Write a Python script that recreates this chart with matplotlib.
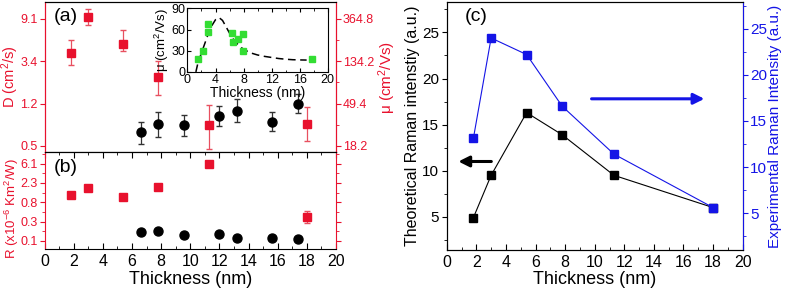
import numpy as np
import matplotlib
matplotlib.use("Agg")
import matplotlib.pyplot as plt
from matplotlib.ticker import FixedLocator, FixedFormatter, NullFormatter, MultipleLocator

plt.rcParams['font.family'] = ['Liberation Sans', 'DejaVu Sans']
plt.rcParams['mathtext.fontset'] = 'custom'
plt.rcParams['mathtext.rm'] = 'Liberation Sans'
plt.rcParams['mathtext.it'] = 'Liberation Sans:italic'

RED = '#e8112d'
BLUE = '#1414e6'

# ---- panel (a): diffusivity D (left) / mobility mu (right)
x_red = [1.8, 3.0, 5.4, 7.8, 11.3, 18.0]
D_red = [4.1, 9.6, 5.1, 2.3, 0.74, 0.76]
D_red_hi = [5.5, 11.5, 7.0, 3.4, 1.19, 1.13]
D_red_lo = [3.1, 8.0, 4.3, 1.5, 0.42, 0.51]

x_blk = [6.6, 7.8, 9.6, 12.0, 13.2, 15.6, 17.4]
D_blk = [0.63, 0.76, 0.74, 0.93, 1.05, 0.81, 1.23]
D_blk_hi = [0.81, 1.02, 0.94, 1.17, 1.37, 1.01, 1.54]
D_blk_lo = [0.48, 0.56, 0.57, 0.73, 0.80, 0.65, 0.98]

D_ticks = [0.455, 1.235, 3.355, 9.12]
D_labels = ['0.5', '1.2', '3.4', '9.1']
mu_ticks = [18.2, 49.4, 134.2, 364.8]
mu_labels = ['18.2', '49.4', '134.2', '364.8']

# inset
x_green = [1.5, 2.2, 3.0, 3.0, 6.4, 6.5, 7.2, 7.9, 7.9, 17.7]
mu_green = [19, 30, 68, 57, 55, 42, 47, 54, 29, 18]
x_fit = [1.2, 1.5, 2.0, 2.5, 3.0, 3.5, 4.0, 4.5, 5.0, 5.5, 6.0, 6.5, 7.0,
         7.5, 8.0, 9.0, 10.0, 11.0, 12.0, 13.0, 14.0, 15.0, 16.0, 17.0]
mu_fit = [0, 13, 27, 41, 55, 66, 74, 77, 73, 64, 55, 47, 41,
          36, 32, 27, 24, 22, 20.5, 19, 18, 17.3, 17, 16.8]

# ---- panel (b): thermal resistance R
R_red = [1.17, 1.74, 1.06, 1.83, 6.05, 0.385]
R_red_hi = [1.17, 1.74, 1.06, 1.83, 6.05, 0.51]
R_red_lo = [1.17, 1.74, 1.06, 1.83, 6.05, 0.28]
R_blk = [0.171, 0.180, 0.149, 0.160, 0.126, 0.128, 0.119]
R_ticks = [0.111, 0.301, 0.819, 2.226, 6.05]
R_labels = ['0.1', '0.3', '0.8', '2.3', '6.1']

# ---- panel (c): Raman intensity
x_c = [1.8, 3.0, 5.4, 7.8, 11.3, 18.0]
theo = [4.9, 9.5, 16.3, 13.9, 9.5, 6.0]
expt = [13.1, 24.0, 22.2, 16.6, 11.4, 5.6]


def geo_minor(ticks):
    t = np.log(ticks)
    step = t[1] - t[0]
    mids = np.concatenate(([t[0] - step / 2], (t[:-1] + t[1:]) / 2, [t[-1] + step / 2]))
    return list(np.exp(mids))


def red_left(ax):
    ax.spines['left'].set_color(RED)
    ax.spines['right'].set_color(RED)
    ax.tick_params(axis='y', which='both', colors=RED, labelcolor=RED,
                   direction='out', right=True, labelsize=9, pad=1.5)
    ax.tick_params(axis='y', which='major', length=3.5)
    ax.tick_params(axis='y', which='minor', length=2.5)


fig = plt.figure(figsize=(7.89, 2.9), dpi=100)

axa = fig.add_axes([0.0565, 0.476, 0.3694, 0.517])
axb = fig.add_axes([0.0565, 0.140, 0.3694, 0.336], sharex=axa)
axc = fig.add_axes([0.5662, 0.138, 0.3751, 0.855])
axi = fig.add_axes([0.2376, 0.752, 0.1777, 0.219])

# panel (a)
axa.set_yscale('log')
axa.set_ylim(0.395, 13.6)
axa.errorbar(x_blk, D_blk,
             yerr=[np.subtract(D_blk, D_blk_lo), np.subtract(D_blk_hi, D_blk)],
             fmt='o', color='black', ms=6.5, capsize=2.5, elinewidth=0.9,
             ecolor='#333333')
axa.errorbar(x_red, D_red,
             yerr=[np.subtract(D_red, D_red_lo), np.subtract(D_red_hi, D_red)],
             fmt='s', color=RED, ms=6, capsize=2.5, elinewidth=0.9,
             ecolor='#e85060')
axa.yaxis.set_major_locator(FixedLocator(D_ticks))
axa.yaxis.set_major_formatter(FixedFormatter(D_labels))
axa.yaxis.set_minor_locator(FixedLocator([]))
red_left(axa)
axa.tick_params(axis='y', right=False)
axa.tick_params(axis='x', which='both', bottom=False, labelbottom=False)
axa.set_ylabel('D (cm$^2$/s)', color=RED, fontsize=10.5)
axa.yaxis.set_label_coords(-0.082, 0.5)
axa.text(0.03, 0.96, '(a)', transform=axa.transAxes, fontsize=14,
         va='top', ha='left')

axmu = axa.twinx()
axmu.set_yscale('log')
axmu.set_ylim(0.395 * 40, 13.6 * 40)
axmu.yaxis.set_major_locator(FixedLocator(mu_ticks))
axmu.yaxis.set_major_formatter(FixedFormatter(mu_labels))
axmu.yaxis.set_minor_locator(FixedLocator(geo_minor(mu_ticks)))
axmu.yaxis.set_minor_formatter(NullFormatter())
axmu.spines['right'].set_color(RED)
axmu.spines['left'].set_color(RED)
axmu.tick_params(axis='y', which='both', colors=RED, labelcolor=RED,
                 direction='out', labelsize=9, pad=1.5)
axmu.tick_params(axis='y', which='major', length=3.5)
axmu.tick_params(axis='y', which='minor', length=2.5)
axmu.set_ylabel('\u03bc (cm$^2$/Vs)', color=RED, fontsize=11)
axmu.yaxis.set_label_coords(1.14, 0.5)

# panel (b)
axb.set_yscale('log')
axb.set_ylim(0.071, 11.1)
axb.plot(x_blk, R_blk, 'o', color='black', ms=6.5)
axb.errorbar(x_red, R_red,
             yerr=[np.subtract(R_red, R_red_lo), np.subtract(R_red_hi, R_red)],
             fmt='s', color=RED, ms=6, capsize=2.5, elinewidth=0.9,
             ecolor='#e85060')
axb.yaxis.set_major_locator(FixedLocator(R_ticks))
axb.yaxis.set_major_formatter(FixedFormatter(R_labels))
axb.yaxis.set_minor_locator(FixedLocator(geo_minor(R_ticks)))
axb.yaxis.set_minor_formatter(NullFormatter())
red_left(axb)
axb.set_xlim(0, 20)
axb.xaxis.set_major_locator(MultipleLocator(2))
axb.xaxis.set_minor_locator(MultipleLocator(1))
axb.tick_params(axis='x', which='both', direction='in', top=True, labelsize=11.5)
axb.tick_params(axis='x', which='major', length=4)
axb.tick_params(axis='x', which='minor', length=2.5)
axb.set_xlabel('Thickness (nm)', fontsize=13, labelpad=1)
axb.set_ylabel('R (x10$^{-6}$ Km$^2$/W)', color=RED, fontsize=9.5)
axb.yaxis.set_label_coords(-0.082, 0.42)
axb.text(0.03, 0.93, '(b)', transform=axb.transAxes, fontsize=14,
         va='top', ha='left')

# inset
axi.plot(x_fit, mu_fit, '--', color='black', lw=1.1, dashes=(5, 3))
axi.plot(x_green, mu_green, 's', color='#33dd33', ms=4.5)
axi.set_xlim(0, 20)
axi.set_ylim(0, 90)
axi.set_xticks([0, 4, 8, 12, 16, 20])
axi.set_yticks([0, 30, 60, 90])
axi.xaxis.set_minor_locator(MultipleLocator(2))
axi.tick_params(axis='both', which='both', direction='in', top=True,
                labelsize=9, pad=1.5)
axi.tick_params(which='major', length=3)
axi.tick_params(which='minor', length=1.8)
axi.set_xlabel('Thickness (nm)', fontsize=10, labelpad=0)
axi.set_ylabel('\u03bc (cm$^2$/Vs)', fontsize=9.5, labelpad=0)

# panel (c)
axc.plot(x_c, theo, '-s', color='black', lw=0.8, ms=5.5)
axc.set_xlim(0, 20)
axc.set_ylim(1.4, 28.3)
axc.set_yticks([5, 10, 15, 20, 25])
axc.yaxis.set_minor_locator(MultipleLocator(2.5))
axc.xaxis.set_major_locator(MultipleLocator(2))
axc.xaxis.set_minor_locator(MultipleLocator(1))
axc.tick_params(axis='x', which='both', direction='in', labelsize=11.5)
axc.tick_params(axis='x', which='major', length=4)
axc.tick_params(axis='x', which='minor', length=2.5)
axc.tick_params(axis='y', which='both', direction='out', labelsize=11, pad=2)
axc.tick_params(axis='y', which='minor', length=2.5)
axc.set_xlabel('Thickness (nm)', fontsize=13, labelpad=1)
axc.set_ylabel('Theoretical Raman intenstiy (a.u.)', fontsize=11.5)
axc.yaxis.set_label_coords(-0.09, 0.5)
axc.text(0.06, 0.975, '(c)', transform=axc.transAxes, fontsize=14,
         va='top', ha='left')
axc.annotate('', xy=(0.6, 11.0), xytext=(3.2, 11.0),
             arrowprops=dict(arrowstyle='-|>', color='black', lw=2.2,
                             mutation_scale=16))

axe = axc.twinx()
axe.plot(x_c, expt, '-s', color=BLUE, lw=0.8, ms=5.5)
axe.set_ylim(1.0, 27.9)
axe.set_yticks([5, 10, 15, 20, 25])
axe.yaxis.set_minor_locator(MultipleLocator(2.5))
axe.spines['right'].set_color(BLUE)
axe.tick_params(axis='y', which='both', colors=BLUE, labelcolor=BLUE,
                direction='out', labelsize=11, pad=2)
axe.tick_params(axis='y', which='minor', length=2.5)
axe.set_ylabel('Experimental Raman Intensity (a.u.)', color=BLUE,
               fontsize=11)
axe.yaxis.set_label_coords(1.086, 0.5)
axe.annotate('', xy=(17.6, 17.4), xytext=(9.6, 17.4),
             arrowprops=dict(arrowstyle='-|>', color=BLUE, lw=2.2,
                             mutation_scale=16))

fig.savefig('out.png', dpi=100)
